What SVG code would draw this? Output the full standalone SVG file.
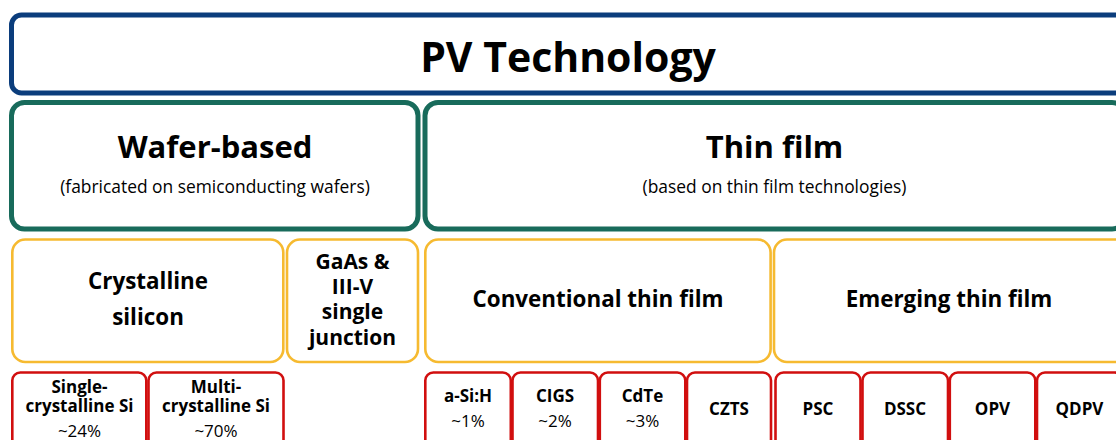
<svg xmlns="http://www.w3.org/2000/svg" width="1116" height="440" viewBox="0 0 1116 440">
<style>
.t{font-family:"Open Sans","Noto Sans","Liberation Sans",sans-serif;fill:#000;text-anchor:middle}
.b{font-weight:700}
.blue{fill:#fff;stroke:#0b3d7c;stroke-width:5}
.green{fill:#fff;stroke:#186b5b;stroke-width:5}
.yel{fill:#fff;stroke:#f6ba30;stroke-width:2.6}
.red{fill:#fff;stroke:#d10f0f;stroke-width:2.6}
.h0{font-size:41px}
.h1{font-size:31px}
.sub{font-size:17.4px}
.h2{font-size:22.4px}
.g2{font-size:21px}
.h3{font-size:17px}
.pct{font-size:17px;font-weight:400}
</style>
<rect width="1116" height="440" fill="#fff"/>
<g id="pv">
<rect class="blue" x="11.5" y="15" width="1120" height="78" rx="10"/>
<text class="t b h0" x="568" y="72">PV Technology</text>
</g>
<g id="wafer">
<rect class="green" x="11.5" y="102.5" width="406.5" height="126.5" rx="13"/>
<text class="t b h1" x="215" y="158">Wafer-based</text>
<text class="t sub" x="215" y="193">(fabricated on semiconducting wafers)</text>
</g>
<g id="thin">
<rect class="green" x="425" y="102.5" width="700" height="126.5" rx="13"/>
<text class="t b h1" x="774.5" y="158">Thin film</text>
<text class="t sub" x="774.5" y="193">(based on thin film technologies)</text>
</g>
<g id="csi">
<rect class="yel" x="12.3" y="239.5" width="271" height="122.5" rx="13"/>
<text class="t b h2" x="148" y="289">Crystalline</text>
<text class="t b h2" x="148" y="325">silicon</text>
</g>
<g id="gaas">
<rect class="yel" x="287" y="239.5" width="131" height="122.5" rx="13"/>
<text class="t b g2" x="352.5" y="269">GaAs &amp;</text>
<text class="t b g2" x="352.5" y="294">III-V</text>
<text class="t b g2" x="352.5" y="319">single</text>
<text class="t b g2" x="352.5" y="345">junction</text>
</g>
<g id="conv">
<rect class="yel" x="425.3" y="239.5" width="345.3" height="122.5" rx="13"/>
<text class="t b h2" x="598" y="307">Conventional thin film</text>
</g>
<g id="emerg">
<rect class="yel" x="774" y="239.5" width="360" height="122.5" rx="13"/>
<text class="t b h2" x="949" y="307">Emerging thin film</text>
</g>
<g id="sc">
<rect class="red" x="12.3" y="372.5" width="134" height="90" rx="8"/>
<text class="t b h3" x="79.5" y="392.5">Single-</text>
<text class="t b h3" x="79.5" y="411.5">crystalline Si</text>
<text class="t pct" x="79.5" y="436.5">~24%</text>
</g>
<g id="mc">
<rect class="red" x="148.5" y="372.5" width="135" height="90" rx="8"/>
<text class="t b h3" x="216" y="392.5">Multi-</text>
<text class="t b h3" x="216" y="411.5">crystalline Si</text>
<text class="t pct" x="216" y="436.5">~70%</text>
</g>
<g id="asi">
<rect class="red" x="425.3" y="372.5" width="85.5" height="90" rx="8"/>
<text class="t b h3" x="468" y="401.5">a-Si:H</text>
<text class="t pct" x="468" y="426.5">~1%</text>
</g>
<g id="cigs">
<rect class="red" x="512.5" y="372.5" width="85.5" height="90" rx="8"/>
<text class="t b h3" x="555" y="401.5">CIGS</text>
<text class="t pct" x="555" y="426.5">~2%</text>
</g>
<g id="cdte">
<rect class="red" x="599.8" y="372.5" width="85.5" height="90" rx="8"/>
<text class="t b h3" x="642.5" y="401.5">CdTe</text>
<text class="t pct" x="642.5" y="426.5">~3%</text>
</g>
<g id="czts">
<rect class="red" x="687" y="372.5" width="84" height="90" rx="8"/>
<text class="t b h3" x="729" y="415">CZTS</text>
</g>
<g id="psc">
<rect class="red" x="775.5" y="372.5" width="85" height="90" rx="8"/>
<text class="t b h3" x="818" y="415">PSC</text>
</g>
<g id="dssc">
<rect class="red" x="862.5" y="372.5" width="85.5" height="90" rx="8"/>
<text class="t b h3" x="905" y="415">DSSC</text>
</g>
<g id="opv">
<rect class="red" x="949.8" y="372.5" width="85.5" height="90" rx="8"/>
<text class="t b h3" x="992.5" y="415">OPV</text>
</g>
<g id="qdpv">
<rect class="red" x="1037" y="372.5" width="85.5" height="90" rx="8"/>
<text class="t b h3" x="1079.5" y="415">QDPV</text>
</g>
<g id="connectors"></g>
</svg>
